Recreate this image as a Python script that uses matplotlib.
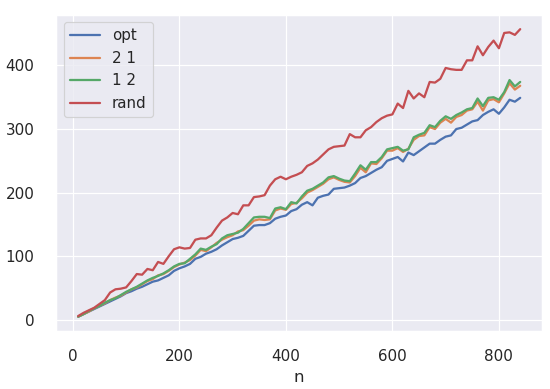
import numpy as np
import matplotlib
matplotlib.use("Agg")
import matplotlib.pyplot as plt
import seaborn as sns

sns.set_theme(font_scale=1.15)

# problem sizes
n = list(range(10, 850, 10))

opt = [5, 9, 13, 17, 21, 25, 29, 33, 37, 42,
       45, 49, 52, 56, 60, 62, 66, 70, 77, 81,
       84, 88, 96, 99, 104, 107, 111, 117, 122, 127,
       129, 132, 140, 148, 149, 149, 152, 159, 162, 164,
       171, 174, 181, 185, 180, 192, 195, 197, 206, 207,
       208, 211, 215, 223, 226, 231, 236, 240, 250, 253,
       256, 249, 263, 259, 265, 271, 277, 277, 283, 288,
       290, 300, 302, 307, 312, 314, 322, 327, 331, 324,
       334, 346, 343, 349]

two_one = [5, 9, 13, 18, 22, 26, 31, 35, 38, 43,
           48, 51, 56, 61, 64, 70, 72, 77, 83, 87,
           90, 94, 101, 110, 108, 114, 121, 126, 130, 133,
           139, 141, 148, 156, 158, 157, 158, 172, 175, 173,
           182, 184, 191, 200, 204, 209, 214, 221, 224, 220,
           217, 216, 226, 239, 232, 246, 245, 254, 266, 266,
           270, 264, 269, 283, 289, 290, 303, 300, 310, 316,
           310, 319, 322, 329, 331, 343, 329, 345, 347, 342,
           356, 372, 362, 368]

one_two = [5, 9, 14, 18, 22, 27, 31, 34, 39, 44,
           48, 52, 57, 62, 66, 69, 73, 78, 84, 88,
           89, 96, 103, 112, 110, 115, 119, 128, 133, 135,
           137, 143, 152, 161, 162, 162, 160, 175, 177, 174,
           185, 183, 194, 203, 206, 211, 216, 224, 226, 222,
           219, 218, 230, 243, 236, 248, 248, 256, 268, 270,
           272, 266, 268, 287, 291, 294, 306, 303, 313, 320,
           316, 322, 326, 331, 333, 348, 336, 349, 350, 346,
           358, 377, 367, 374]

rand = [6, 11, 15, 19, 25, 31, 43, 48, 49, 51,
        61, 72, 71, 80, 78, 91, 88, 100, 111, 114,
        112, 113, 126, 128, 128, 133, 145, 156, 161, 168,
        166, 180, 180, 193, 194, 196, 211, 221, 225, 221,
        225, 228, 232, 242, 246, 252, 260, 268, 272, 273,
        274, 292, 287, 287, 298, 303, 311, 317, 321, 323,
        340, 333, 360, 348, 356, 350, 374, 373, 379, 396,
        394, 393, 393, 408, 408, 430, 416, 429, 439, 427,
        451, 452, 448, 457]

fig = plt.figure(figsize=(550 / 86, 389 / 86), dpi=86)
ax = fig.add_axes([0.102, 0.149, 0.884, 0.813])

lw = 1.9
ax.plot(n, opt, lw=lw, label="opt")
ax.plot(n, two_one, lw=lw, label="2 1")
ax.plot(n, one_two, lw=lw, label="1 2")
ax.plot(n, rand, lw=lw, label="rand")

ax.tick_params(axis="x", pad=9)
ax.tick_params(axis="y", pad=12)
ax.set_xlabel("n", labelpad=5)
ax.legend(loc="upper left")

fig.savefig("out.png", dpi=86)
